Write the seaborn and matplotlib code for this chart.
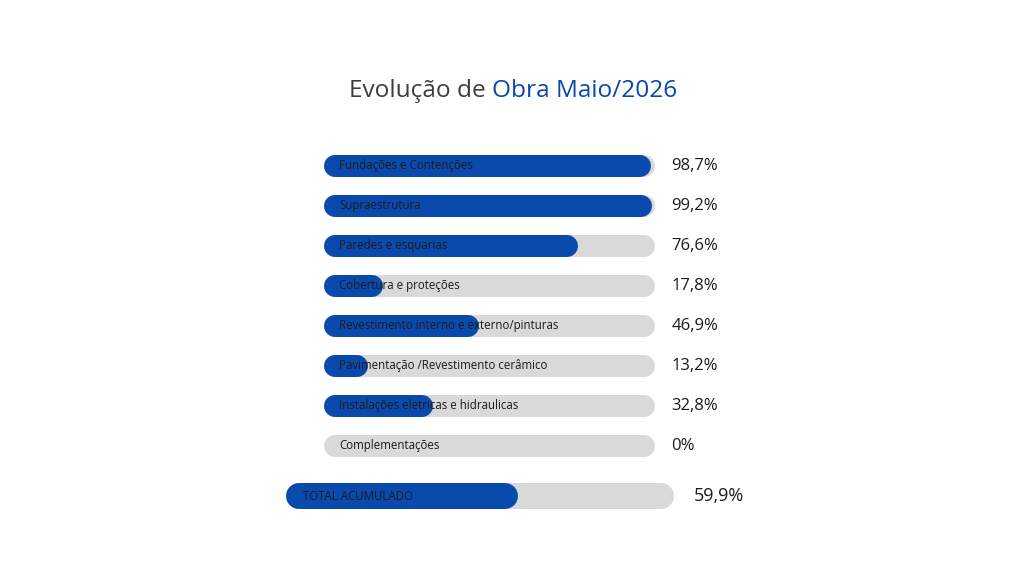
import numpy as np
import pandas as pd
import matplotlib.pyplot as plt
import seaborn as sns
from matplotlib.lines import Line2D
from matplotlib.transforms import IdentityTransform

# Etapas da obra e percentuais concluidos
etapas = [
    "Fundações e Contenções",
    "Supraestrutura",
    "Paredes e esquarias",
    "Cobertura e proteções",
    "Revestimento interno e externo/pinturas",
    "Pavimentação /Revestimento cerâmico",
    "Instalações eletricas e hidraulicas",
    "Complementações",
]
percentuais = [98.7, 99.2, 76.6, 17.8, 46.9, 13.2, 32.8, 0.0]
rotulos = ["98,7%", "99,2%", "76,6%", "17,8%", "46,9%", "13,2%", "32,8%", "0%"]

total_label = ["TOTAL ACUMULADO"]
total_valor = [59.9]
total_rotulo = ["59,9%"]

AZUL = "#0B4AAD"
CINZA = "#D9D9D9"
TEXTO = "#1a1a1a"
FONT = ["Open Sans", "DejaVu Sans"]

W, H = 1024, 573
DPI = 100


def round_bars(ax):
    """Troca os retangulos do barplot por barras de pontas redondas (em pixels)."""
    fig = ax.figure
    fig.canvas.draw()
    for p in list(ax.patches):
        x, y = p.get_x(), p.get_y()
        w, h = p.get_width(), p.get_height()
        if w <= 0:
            p.remove()
            continue
        (px0, py0), (px1, py1) = ax.transData.transform([(x, y), (x + w, y + h)])
        left, right = min(px0, px1), max(px0, px1)
        bh = abs(py1 - py0)
        cy = (py0 + py1) / 2
        r = min(bh / 2, (right - left) / 2)
        line = Line2D([left + r, right - r], [cy, cy],
                      linewidth=2 * r * 72 / DPI, color=p.get_facecolor(),
                      solid_capstyle="round", transform=IdentityTransform(),
                      zorder=p.get_zorder())
        p.remove()
        ax.add_artist(line)


def progress_axes(fig, rect, labels, values, texts, bar_h, fs_in, fs_pct, pct_x):
    ax = fig.add_axes(rect)
    df = pd.DataFrame({"etapa": labels, "valor": values, "cheio": [100.0] * len(labels)})
    sns.barplot(data=df, y="etapa", x="cheio", color=CINZA, width=bar_h,
                saturation=1, ax=ax, zorder=1)
    sns.barplot(data=df, y="etapa", x="valor", color=AZUL, width=bar_h,
                saturation=1, ax=ax, zorder=2)
    ax.set_xlim(0, 100)
    ax.set_ylim(len(labels) - 0.5, -0.5)
    ax.axis("off")
    for i, (lab, txt) in enumerate(zip(labels, texts)):
        ax.text(4.5, i, lab, va="center", ha="left", fontsize=fs_in,
                color=TEXTO, family=FONT, zorder=3)
        ax.text(pct_x, i, txt, va="center", ha="left", fontsize=fs_pct,
                color=TEXTO, family=FONT, clip_on=False)
    return ax


sns.set_theme(style="white")
plt.rcParams["font.family"] = FONT

fig = plt.figure(figsize=(W / DPI, H / DPI), dpi=DPI)
fig.patch.set_facecolor("white")

# Etapas: barras de 324 a 655 px, linhas de 146 a 466 px
ax1 = progress_axes(fig, [324 / W, (H - 466) / H, 331 / W, 320 / H],
                    etapas, percentuais, rotulos, 0.55, 8.3, 12, 105.0)
# Total acumulado
ax2 = progress_axes(fig, [286 / W, (H - 516) / H, 388 / W, 40 / H],
                    total_label, total_valor, total_rotulo, 0.65, 8.3, 13, 105.2)

round_bars(ax1)
round_bars(ax2)

# Titulo em duas cores
renderer = fig.canvas.get_renderer()
t1 = fig.text(0, 1 - 91 / H, "Evolução de ", fontsize=17.6, color="#3d3d3d",
              va="center", ha="left", family=FONT)
t2 = fig.text(0, 1 - 91 / H, "Obra Maio/2026", fontsize=17.6, color="#0B47A8",
              va="center", ha="left", family=FONT)
w1 = t1.get_window_extent(renderer).width
w2 = t2.get_window_extent(renderer).width
start = 513 - (w1 + w2) / 2
t1.set_x(start / W)
t2.set_x((start + w1) / W)

fig.savefig("out.png", dpi=DPI, facecolor="white")
